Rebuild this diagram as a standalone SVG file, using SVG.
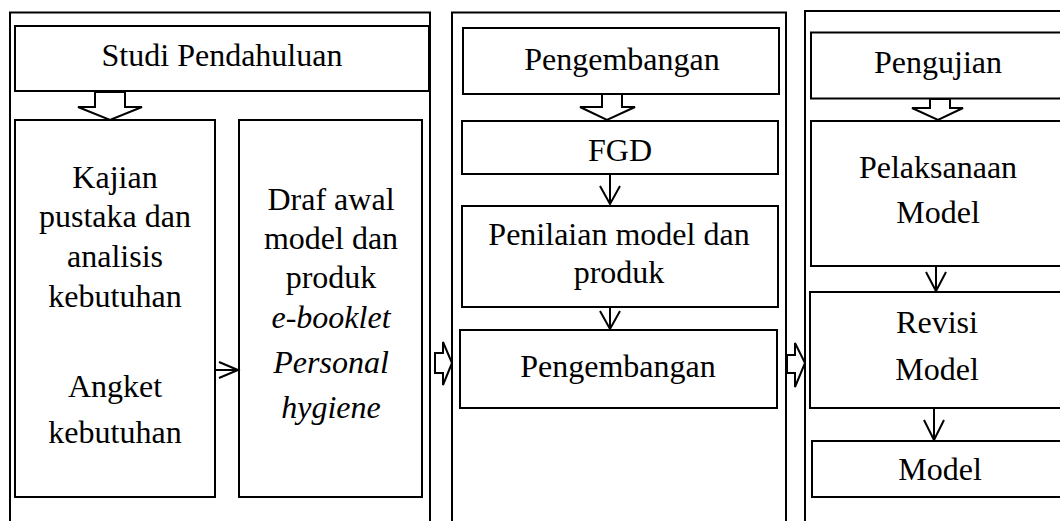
<svg xmlns="http://www.w3.org/2000/svg" width="1060" height="521" viewBox="0 0 1060 521">
<style>
.panel{fill:none;stroke:#000;stroke-width:2}
.box{fill:#fff;stroke:#000;stroke-width:2}
.blk{fill:#fff;stroke:#000;stroke-width:2;stroke-linejoin:miter}
.ln{fill:none;stroke:#000;stroke-width:2}
text{font-family:"Liberation Serif","Times New Roman",serif;font-size:32px;fill:#000;text-anchor:middle}
.it{font-style:italic}
</style>
<rect width="1060" height="521" fill="#fff"/>
<g id="panel-1"><rect class="panel" x="10" y="12.5" width="420" height="540"/></g>
<g id="panel-2"><rect class="panel" x="452" y="12.5" width="334" height="540"/></g>
<g id="panel-3"><rect class="panel" x="805" y="11" width="300" height="540"/></g>

<g id="studi-pendahuluan"><rect class="box" x="15" y="26" width="414" height="65"/><text x="222" y="66">Studi Pendahuluan</text></g>
<g id="kajian"><rect class="box" x="15" y="120" width="200" height="377"/>
<text x="115" y="188">Kajian</text><text x="115" y="227">pustaka dan</text><text x="115" y="267">analisis</text><text x="115" y="307">kebutuhan</text>
<text x="115" y="397">Angket</text><text x="115" y="443">kebutuhan</text></g>
<g id="draf"><rect class="box" x="239" y="120" width="183" height="377"/>
<text x="331" y="210">Draf awal</text><text x="331" y="249">model dan</text><text x="331" y="288">produk</text>
<text class="it" x="331" y="328">e-booklet</text><text class="it" x="331" y="373">Personal</text><text class="it" x="331" y="418">hygiene</text></g>

<g id="pengembangan-header"><rect class="box" x="463" y="28" width="316" height="66"/><text x="622" y="70">Pengembangan</text></g>
<g id="fgd"><rect class="box" x="462" y="121" width="316" height="53"/><text x="620" y="161">FGD</text></g>
<g id="penilaian"><rect class="box" x="462" y="206" width="316" height="101"/><text x="619" y="245">Penilaian model dan</text><text x="619" y="283">produk</text></g>
<g id="pengembangan"><rect class="box" x="460" y="330" width="317" height="78"/><text x="618" y="377">Pengembangan</text></g>

<g id="pengujian-header"><rect class="box" x="811" y="32.5" width="260" height="66"/><text x="938" y="73">Pengujian</text></g>
<g id="pelaksanaan"><rect class="box" x="811" y="121" width="260" height="145"/><text x="938" y="178">Pelaksanaan</text><text x="938" y="223">Model</text></g>
<g id="revisi"><rect class="box" x="810" y="292" width="260" height="116"/><text x="937" y="333">Revisi</text><text x="937" y="380">Model</text></g>
<g id="model"><rect class="box" x="812" y="441" width="260" height="56"/><text x="940" y="480">Model</text></g>

<g id="connectors">
<polygon class="blk" points="95,92 125,92 125,107 142,107 110,120 78,107 95,107"/>
<polygon class="blk" points="602,94 622,94 622,107 635,107 607,120 580,107 602,107"/>
<polygon class="blk" points="930,99 950,99 950,108 963,108 938,120 912,108 930,108"/>
<polygon class="blk" points="435,353 443,353 443,342 452,363 443,385 443,373 435,373"/>
<polygon class="blk" points="787,355 795,355 795,343 805,363 795,387 795,373 787,373"/>
<path class="ln" d="M215,370 H238 M219,362 L238,370 L219,378"/>
<path class="ln" d="M610,174 V204 M600,186 L610,204 L620,186"/>
<path class="ln" d="M610,307 V329 M600,311 L610,329 L620,311"/>
<path class="ln" d="M936,266 V291 M926,272 L936,291 L946,272"/>
<path class="ln" d="M934,408 V440 M924,420 L934,440 L944,420"/>
</g>
</svg>
